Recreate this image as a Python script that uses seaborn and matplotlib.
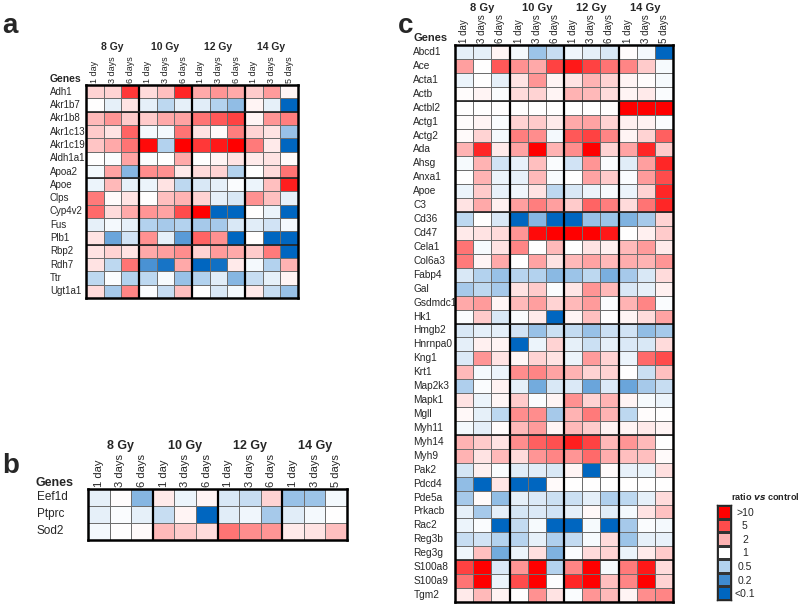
import numpy as np
import matplotlib
matplotlib.use("Agg")
import matplotlib.pyplot as plt
import seaborn as sns
from matplotlib.colors import LinearSegmentedColormap
from matplotlib.transforms import blended_transform_factory

sns.set_style("white")
plt.rcParams['font.family'] = ['Liberation Sans Narrow', 'Liberation Sans', 'DejaVu Sans']
plt.rcParams['mathtext.fontset'] = 'custom'
plt.rcParams['mathtext.it'] = 'Liberation Sans Narrow:italic:bold'
plt.rcParams['mathtext.rm'] = 'Liberation Sans Narrow:bold'

# ---- data (ratio vs control) ----
doses = ['8 Gy', '10 Gy', '12 Gy', '14 Gy']
times = ['1 day', '3 days', '6 days'] * 3 + ['1 day', '3 days', '5 days']

genes_a = ['Adh1', 'Akr1b7', 'Akr1b8', 'Akr1c13', 'Akr1c19', 'Aldh1a1', 'Apoa2', 'Apoe',
           'Clps', 'Cyp4v2', 'Fus', 'Plb1', 'Rbp2', 'Rdh7', 'Ttr', 'Ugt1a1']
ratio_a = [
    [1.5, 1.5, 6, 1.4, 1.8, 7, 2.2, 2.6, 2.2, 1.6, 2.5, 1.1],
    [1.0, 0.8, 1.3, 0.8, 0.55, 0.8, 0.75, 0.5, 0.38, 1.1, 0.8, 0.1],
    [1.9, 2.6, 1.6, 1.6, 2.2, 2.3, 3.5, 4.5, 5.5, 1.1, 2.6, 3.2],
    [1.6, 1.3, 4, 0.9, 0.9, 3.5, 1.3, 1.05, 3.2, 1.5, 1.3, 0.4],
    [1.7, 2.2, 3.5, 9, 0.5, 11, 6, 8, 11, 3.3, 1.2, 0.1],
    [1.0, 0.95, 2.3, 0.95, 1.0, 2.2, 1.0, 1.1, 1.3, 1.2, 1.3, 1.05],
    [0.9, 2.3, 0.35, 2.8, 2.7, 1.2, 1.4, 1.5, 0.5, 1.0, 1.4, 3.5],
    [0.85, 1.9, 0.8, 0.85, 1.3, 0.55, 0.7, 0.8, 0.95, 0.85, 1.8, 7.5],
    [3.3, 1.05, 1.3, 1.0, 1.8, 2.0, 1.5, 0.8, 0.7, 2.7, 1.8, 0.8],
    [3.8, 1.4, 2.2, 2.6, 2.3, 5, 10, 0.1, 0.1, 1.0, 0.85, 0.1],
    [0.8, 0.9, 0.8, 0.5, 0.45, 0.5, 0.45, 0.45, 0.7, 0.75, 0.65, 0.9],
    [1.3, 0.28, 0.65, 2.7, 0.8, 0.25, 4, 2.7, 0.1, 1.0, 0.1, 0.1],
    [1.3, 1.5, 1.3, 2.2, 2.4, 2.8, 1.5, 2.5, 2.2, 1.6, 3.3, 0.1],
    [1.3, 0.55, 3.5, 0.22, 0.13, 2.2, 0.1, 0.12, 1.2, 0.9, 0.5, 2.0],
    [0.55, 0.95, 0.5, 0.55, 0.92, 0.4, 0.5, 0.75, 0.35, 0.6, 0.8, 1.1],
    [1.4, 0.45, 3, 0.95, 0.6, 1.8, 1.0, 0.7, 0.9, 1.2, 0.6, 0.4],
]

genes_b = ['Eef1d', 'Ptprc', 'Sod2']
ratio_b = [
    [0.8, 1.02, 0.35, 1.2, 0.85, 1.1, 0.7, 0.6, 1.5, 0.4, 0.42, 0.9],
    [0.8, 0.95, 0.8, 0.6, 1.1, 0.1, 0.75, 0.88, 0.45, 0.75, 0.9, 1.0],
    [0.9, 1.0, 1.05, 1.9, 1.6, 1.4, 3.5, 2.8, 2.6, 1.2, 1.3, 1.8],
]

genes_c = ['Abcd1', 'Ace', 'Acta1', 'Actb', 'Actbl2', 'Actg1', 'Actg2', 'Ada', 'Ahsg', 'Anxa1',
           'Apoe', 'C3', 'Cd36', 'Cd47', 'Cela1', 'Col6a3', 'Fabp4', 'Gal', 'Gsdmdc1', 'Hk1',
           'Hmgb2', 'Hnrnpa0', 'Kng1', 'Krt1', 'Map2k3', 'Mapk1', 'Mgll', 'Myh11', 'Myh14', 'Myh9',
           'Pak2', 'Pdcd4', 'Pde5a', 'Prkacb', 'Rac2', 'Reg3b', 'Reg3g', 'S100a8', 'S100a9', 'Tgm2']
ratio_c = [
    [0.8, 0.8, 1.1, 0.9, 0.42, 0.6, 0.88, 0.8, 0.7, 1.02, 0.9, 0.1],
    [2.4, 1.0, 4.5, 2.7, 2.2, 5.5, 8, 5.5, 3.5, 3.0, 1.6, 0.92],
    [0.85, 1.0, 0.8, 1.3, 2.6, 1.1, 1.3, 2.0, 1.5, 1.1, 1.03, 0.93],
    [1.02, 1.1, 0.96, 1.4, 1.5, 1.1, 2.0, 1.9, 1.4, 1.1, 1.2, 0.95],
    [1.0, 1.0, 1.0, 1.0, 1.0, 1.0, 1.0, 1.0, 1.0, 11, 11, 11],
    [1.02, 1.1, 0.96, 1.5, 1.6, 1.2, 2.2, 2.3, 1.5, 1.15, 1.12, 0.95],
    [1.05, 1.5, 0.9, 3.2, 2.8, 0.9, 4.5, 5.5, 3.0, 1.1, 1.5, 4.2],
    [2.0, 7, 1.2, 2.3, 10, 2.0, 2.8, 11, 1.5, 2.3, 7, 1.6],
    [0.93, 2.0, 0.65, 0.82, 1.8, 0.95, 0.65, 2.6, 0.95, 0.75, 2.4, 7],
    [1.0, 2.0, 0.85, 0.82, 1.9, 0.94, 1.0, 2.3, 1.6, 0.95, 2.5, 5],
    [0.85, 1.6, 0.82, 0.88, 1.3, 0.55, 0.7, 0.85, 0.93, 0.85, 1.5, 7],
    [1.3, 2.2, 1.15, 2.4, 3.2, 2.4, 1.6, 4, 3.2, 1.4, 3.5, 7],
    [0.55, 1.0, 0.7, 0.1, 0.35, 0.1, 0.1, 0.4, 0.42, 0.33, 0.45, 1.5],
    [1.2, 1.3, 1.4, 2.6, 9, 11, 11, 11, 8, 1.0, 1.15, 1.6],
    [3.5, 0.93, 1.3, 3.0, 1.0, 1.9, 1.0, 1.3, 1.15, 1.9, 2.5, 1.2],
    [3.3, 1.1, 2.2, 1.0, 2.3, 1.3, 1.9, 2.3, 1.9, 2.1, 2.0, 2.6],
    [0.7, 0.5, 0.4, 0.52, 0.5, 0.36, 0.42, 0.55, 0.32, 0.45, 0.7, 1.4],
    [0.45, 0.55, 0.45, 1.3, 1.6, 0.95, 1.25, 2.6, 1.9, 0.7, 0.8, 1.15],
    [2.2, 2.5, 1.08, 1.9, 2.4, 1.5, 1.9, 2.5, 0.96, 2.0, 3.0, 0.96],
    [0.95, 1.6, 0.7, 0.95, 1.2, 0.1, 1.1, 1.8, 1.0, 1.1, 1.4, 2.3],
    [0.7, 0.78, 0.78, 0.65, 0.4, 0.62, 0.58, 0.4, 0.62, 0.65, 0.38, 0.45],
    [0.78, 1.15, 1.1, 0.1, 0.85, 1.5, 0.8, 0.62, 0.8, 0.72, 0.7, 1.4],
    [0.72, 2.6, 1.3, 1.08, 1.5, 1.3, 0.85, 2.5, 1.5, 0.85, 3.8, 5],
    [1.9, 0.9, 0.85, 2.8, 3.0, 2.3, 2.0, 1.5, 1.5, 1.0, 0.62, 1.8],
    [0.48, 0.95, 1.12, 0.8, 0.3, 0.7, 0.72, 0.28, 0.72, 0.28, 0.45, 0.6],
    [1.3, 0.85, 1.08, 1.6, 0.95, 1.1, 2.7, 1.5, 2.0, 1.1, 0.92, 0.85],
    [1.06, 0.8, 0.55, 2.8, 2.8, 0.45, 2.0, 3.3, 2.0, 0.55, 1.02, 1.0],
    [0.9, 0.78, 1.03, 1.9, 2.5, 1.1, 1.9, 1.6, 1.1, 1.1, 1.2, 1.1],
    [2.0, 1.6, 1.3, 2.8, 4.2, 4.8, 7.5, 5.5, 1.9, 2.6, 1.9, 1.0],
    [2.0, 1.3, 1.9, 1.4, 2.6, 3.0, 2.6, 3.8, 2.1, 1.8, 1.8, 1.05],
    [0.68, 1.15, 0.95, 0.75, 0.75, 0.7, 1.1, 0.1, 1.05, 0.82, 0.85, 1.35],
    [0.38, 0.1, 1.25, 0.1, 0.1, 1.05, 1.0, 1.0, 1.0, 1.0, 1.0, 1.0],
    [0.45, 1.05, 0.38, 0.8, 0.72, 0.62, 0.62, 0.78, 0.48, 0.55, 0.8, 1.4],
    [0.8, 0.45, 0.78, 0.68, 0.72, 0.66, 0.8, 1.06, 0.75, 0.9, 1.3, 1.75],
    [0.85, 0.96, 0.1, 0.58, 0.93, 0.1, 0.1, 0.93, 0.1, 0.45, 0.96, 0.9],
    [0.6, 0.65, 0.5, 0.52, 0.8, 0.48, 0.58, 0.93, 1.4, 0.42, 0.8, 0.82],
    [0.88, 1.8, 0.3, 0.85, 1.35, 0.33, 0.95, 1.4, 1.5, 0.85, 1.2, 1.6],
    [5.5, 11, 0.72, 2.6, 11, 0.5, 3.0, 11, 0.93, 3.3, 8, 1.4],
    [3.5, 11, 0.85, 5, 11, 0.97, 7, 11, 1.8, 3.0, 11, 1.5],
    [1.2, 1.9, 1.12, 1.0, 2.7, 1.3, 0.96, 2.6, 1.9, 1.1, 2.8, 3.0],
]

legend_values = [10, 5, 2, 1, 0.5, 0.2, 0.1]
legend_labels = ['>10', '5', '2', '1', '0.5', '0.2', '<0.1']

# ---- colour scale on log10(ratio) ----
cmap = LinearSegmentedColormap.from_list('ratio', [
    (0.0, '#0066c0'), (0.15, '#3f8bd0'), (0.35, '#b4d2ee'), (0.5, '#ffffff'),
    (0.65, '#ffb4b4'), (0.85, '#ff4c4c'), (1.0, '#ff0000')])

W, H = 800, 608
fig = plt.figure(figsize=(8, 6.08), dpi=100)


def rect(x0, y0, x1, y1):
    return [x0 / W, 1 - y1 / H, (x1 - x0) / W, (y1 - y0) / H]


def draw_panel(box, genes, ratios, fs, gfs, ypad, dose_y, genes_xy, thick_rows):
    ax = fig.add_axes(rect(*box))
    vals = np.log10(np.array(ratios, dtype=float))
    sns.heatmap(vals, ax=ax, cmap=cmap, vmin=-1, vmax=1, cbar=False,
                linewidths=0.6, linecolor='#6e6e6e',
                xticklabels=times, yticklabels=genes)
    ax.xaxis.tick_top()
    ax.set_xticklabels(times, rotation=90, fontsize=fs)
    ax.set_yticklabels(genes, rotation=0, ha='left', fontsize=gfs)
    ax.tick_params(axis='x', length=0, pad=1.5)
    ax.tick_params(axis='y', length=0, pad=ypad)
    for x in [3, 6, 9]:
        ax.axvline(x, color='black', lw=1.6)
    for r in thick_rows:
        ax.axhline(r, color='#222222', lw=1.2)
    for s in ax.spines.values():
        s.set_visible(True)
        s.set_linewidth(1.8)
        s.set_color('black')
    tr = blended_transform_factory(ax.transData, fig.transFigure)
    for i, d in enumerate(doses):
        ax.text(i * 3 + 1.5, 1 - dose_y / H, d, transform=tr, ha='center',
                va='center', fontsize=fs + 1, fontweight='bold')
    fig.text(genes_xy[0] / W, 1 - genes_xy[1] / H, 'Genes', ha='left',
             va='center', fontsize=fs + 1, fontweight='bold')
    return ax


draw_panel((86, 85, 298, 298), genes_a, ratio_a, 6.5, 7, 26, 47, (50, 79), [2, 7, 12])
draw_panel((88, 489, 347, 540), genes_b, ratio_b, 8, 8.5, 37, 446, (36, 483), [])
draw_panel((455, 45, 673, 602), genes_c, ratio_c, 7, 7.3, 30, 8, (413, 38), [4, 12, 20, 28, 37])

# legend
axl = fig.add_axes(rect(717, 505, 731, 600))
sns.heatmap(np.log10(np.array(legend_values, dtype=float)).reshape(-1, 1), ax=axl,
            cmap=cmap, vmin=-1, vmax=1, cbar=False, linewidths=0.8, linecolor='#333333',
            xticklabels=False, yticklabels=legend_labels)
axl.yaxis.tick_right()
axl.set_yticklabels(legend_labels, rotation=0, ha='center', fontsize=7.5)
axl.tick_params(axis='y', length=0, pad=10)
for s in axl.spines.values():
    s.set_visible(True)
    s.set_linewidth(1.0)
fig.text(731 / W, 1 - 497 / H, r'ratio $\mathit{vs}$ control', ha='left', va='center',
         fontsize=6.6, fontweight='bold')

# panel letters
for letter, (x, y) in zip(['a', 'b', 'c'], [(2, 26), (2, 466), (398, 26)]):
    fig.text(x / W, 1 - y / H, letter, fontsize=20, fontweight='bold',
             family=['Liberation Sans', 'DejaVu Sans'], ha='left', va='center')

fig.savefig('out.png', dpi=100)
